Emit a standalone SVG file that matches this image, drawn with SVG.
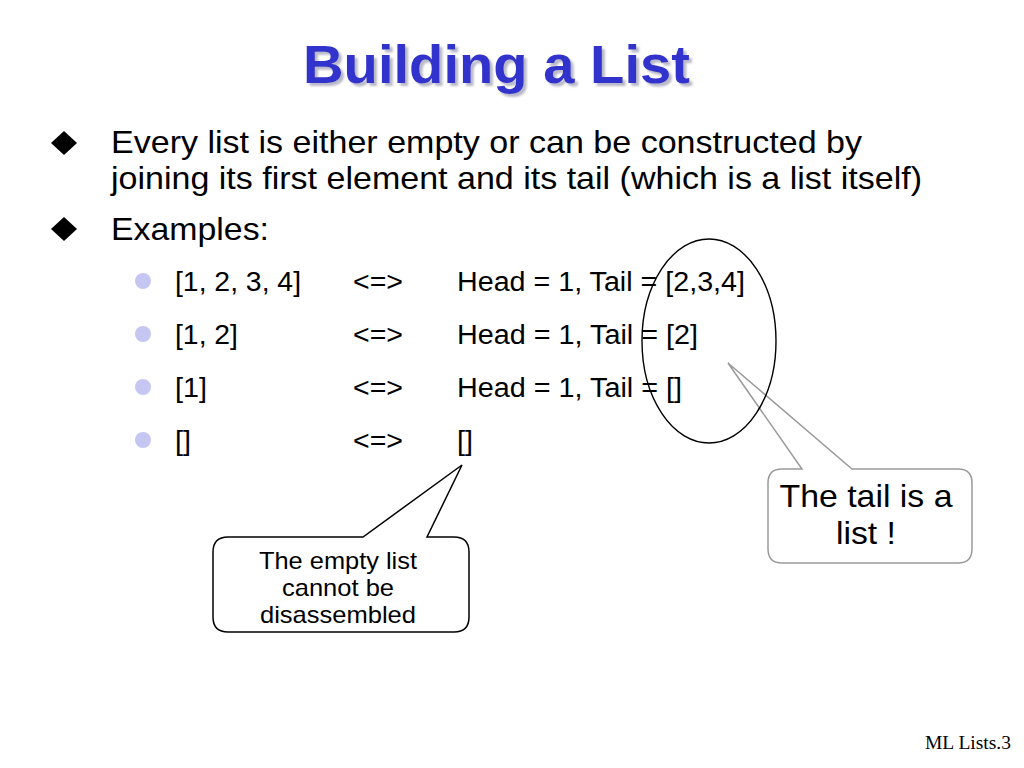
<svg xmlns="http://www.w3.org/2000/svg" width="1024" height="768" viewBox="0 0 1024 768">
<defs>
  <filter id="tshadow" x="-5%" y="-20%" width="115%" height="150%">
    <feDropShadow dx="3" dy="3" stdDeviation="1" flood-color="#9a9ab0" flood-opacity="0.7"/>
  </filter>
</defs>
<style>
  text { font-family: "Liberation Sans", Arial, sans-serif; fill: #000; }
  .title { font-size: 53px; font-weight: bold; fill: #3333cc; filter: url(#tshadow); }
  .l1 { font-size: 32px; }
  .l2 { font-size: 27px; }
  .c1 { font-size: 24px; text-anchor: middle; }
  .c2 { font-size: 32px; text-anchor: middle; }
  .foot { font-family: "Liberation Serif", "Times New Roman", serif; font-size: 19px; }
  .dia { fill: #000; }
  .dot { fill: #c6c6f2; }
  .callout-dark { fill: #fff; stroke: #000; stroke-width: 1.5; }
  .callout-grey { fill: #fff; stroke: #9a9a9a; stroke-width: 1.5; }
  .ring { fill: none; stroke: #000; stroke-width: 1.4; }
</style>

<g id="title">
  <text class="title" x="303" y="83" textLength="387" lengthAdjust="spacingAndGlyphs">Building a List</text>
</g>

<g id="bullets">
  <polygon class="dia" points="64,131 77,143 64,155 51,143"/>
  <text class="l1" x="111" y="153" textLength="751" lengthAdjust="spacingAndGlyphs">Every list is either empty or can be constructed by</text>
  <text class="l1" x="111" y="189" textLength="811" lengthAdjust="spacingAndGlyphs">joining its first element and its tail (which is a list itself)</text>
  <polygon class="dia" points="64,217 77,229 64,241 51,229"/>
  <text class="l1" x="111" y="240" textLength="158" lengthAdjust="spacingAndGlyphs">Examples:</text>
</g>

<g id="examples">
  <circle class="dot" cx="143" cy="281" r="8"/>
  <text class="l2" x="175" y="291" textLength="126" lengthAdjust="spacingAndGlyphs">[1, 2, 3, 4]</text>
  <text class="l2" x="353" y="291" textLength="50" lengthAdjust="spacingAndGlyphs">&lt;=&gt;</text>
  <text class="l2" x="457" y="291" textLength="288" lengthAdjust="spacingAndGlyphs">Head = 1, Tail = [2,3,4]</text>

  <circle class="dot" cx="143" cy="334" r="8"/>
  <text class="l2" x="175" y="344" textLength="63" lengthAdjust="spacingAndGlyphs">[1, 2]</text>
  <text class="l2" x="353" y="344" textLength="50" lengthAdjust="spacingAndGlyphs">&lt;=&gt;</text>
  <text class="l2" x="457" y="344" textLength="241" lengthAdjust="spacingAndGlyphs">Head = 1, Tail = [2]</text>

  <circle class="dot" cx="143" cy="387" r="8"/>
  <text class="l2" x="175" y="397" textLength="32" lengthAdjust="spacingAndGlyphs">[1]</text>
  <text class="l2" x="353" y="397" textLength="50" lengthAdjust="spacingAndGlyphs">&lt;=&gt;</text>
  <text class="l2" x="457" y="397" textLength="225" lengthAdjust="spacingAndGlyphs">Head = 1, Tail = []</text>

  <circle class="dot" cx="143" cy="440" r="8"/>
  <text class="l2" x="175" y="450" textLength="16" lengthAdjust="spacingAndGlyphs">[]</text>
  <text class="l2" x="353" y="450" textLength="50" lengthAdjust="spacingAndGlyphs">&lt;=&gt;</text>
  <text class="l2" x="457" y="450" textLength="16" lengthAdjust="spacingAndGlyphs">[]</text>
</g>

<g id="callout-empty">
  <path class="callout-dark" d="M228,537 L363,537 L462,465 L427,537 L454,537 Q469,537 469,552 L469,617 Q469,632 454,632 L228,632 Q213,632 213,617 L213,552 Q213,537 228,537 Z"/>
  <text class="c1" x="338" y="569" textLength="158" lengthAdjust="spacingAndGlyphs">The empty list</text>
  <text class="c1" x="338" y="596" textLength="112" lengthAdjust="spacingAndGlyphs">cannot be</text>
  <text class="c1" x="338" y="623" textLength="156" lengthAdjust="spacingAndGlyphs">disassembled</text>
</g>

<g id="callout-tail">
  <path class="callout-grey" d="M782,469 L802,469 L728,363 L852,469 L958,469 Q972,469 972,483 L972,549 Q972,563 958,563 L782,563 Q768,563 768,549 L768,483 Q768,469 782,469 Z"/>
  <text class="c2" x="866" y="507" textLength="173" lengthAdjust="spacingAndGlyphs">The tail is a</text>
  <text class="c2" x="866" y="544" textLength="60" lengthAdjust="spacingAndGlyphs">list !</text>
</g>

<g id="tail-ring">
  <ellipse class="ring" cx="709" cy="341" rx="67" ry="102"/>
</g>

<g id="connectors"></g>

<g id="footer">
  <text class="foot" x="925" y="749" textLength="86" lengthAdjust="spacingAndGlyphs">ML Lists.3</text>
</g>
</svg>
